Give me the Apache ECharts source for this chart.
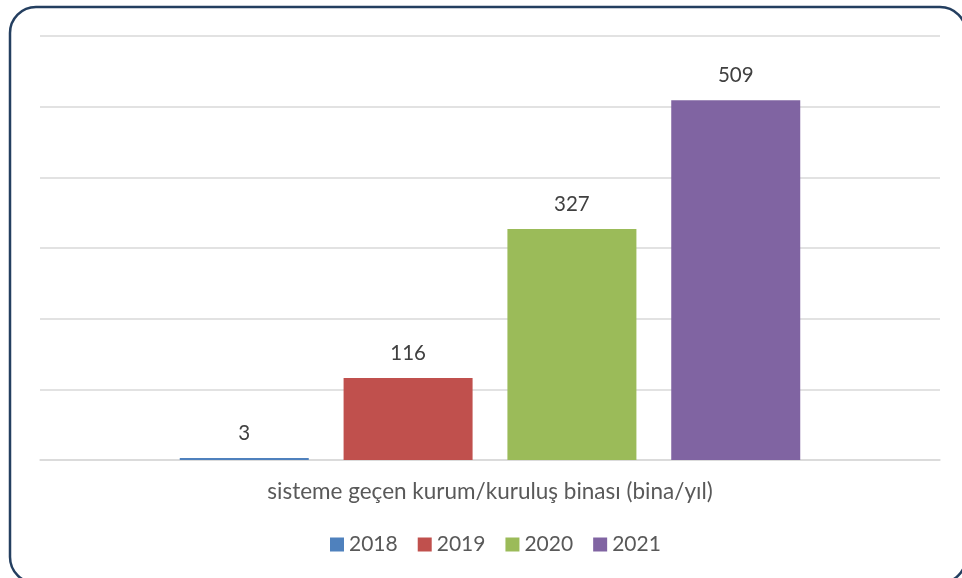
<!DOCTYPE html>
<html><head><meta charset="utf-8">
<script src="https://cdn.jsdelivr.net/npm/echarts@6/dist/echarts.min.js"></script>
<style>html,body{margin:0;padding:0;background:#fff}#c{width:962px;height:578px}</style>
</head><body><div id="c"></div>
<script>
const categories = ['sisteme geçen kurum/kuruluş binası (bina/yıl)'];
const years = ['2018', '2019', '2020', '2021'];
const values = [3, 116, 327, 509];
const colors = ['#4F81BD', '#C0504D', '#9BBB59', '#8064A2'];

const chart = echarts.init(document.getElementById('c'));
const font = 'Lato, "Open Sans", sans-serif';
chart.setOption({
  animation: false,
  textStyle: { fontFamily: font },
  graphic: [{
    type: 'rect', shape: { x: 10, y: 7, width: 956, height: 576, r: 26 },
    style: { fill: 'none', stroke: '#243F60', lineWidth: 2.5 }, z: 100
  }],
  grid: { left: 40, right: 22, top: 36, bottom: 118 },
  legend: {
    bottom: 18, left: 325, itemWidth: 14, itemHeight: 14, itemGap: 20,
    icon: 'rect',
    textStyle: { fontSize: 21, color: '#595959', fontFamily: font }
  },
  xAxis: {
    type: 'category', data: categories,
    axisLine: { lineStyle: { color: '#D9D9D9', width: 1.5 } },
    axisTick: { show: false },
    axisLabel: { color: '#595959', fontSize: 22.5, margin: 20, fontFamily: font }
  },
  yAxis: {
    type: 'value', min: 0, max: 600, interval: 100,
    axisLabel: { show: false }, axisLine: { show: false }, axisTick: { show: false },
    splitLine: { lineStyle: { color: '#D9D9D9', width: 1.5 } }
  },
  series: years.map((y, i) => ({
    name: y, type: 'bar', data: [values[i]],
    barWidth: 129, barGap: '27%',
    itemStyle: { color: colors[i] },
    label: { show: true, position: 'top', distance: 14, color: '#404040', fontSize: 20.5, fontFamily: font }
  }))
});
</script></body></html>
